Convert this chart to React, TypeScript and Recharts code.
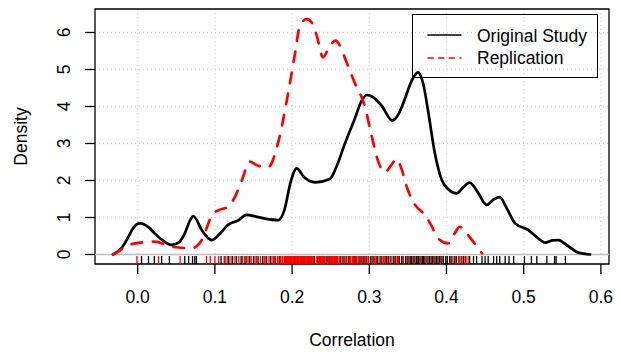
import React from 'react';
import {
  ComposedChart,
  Line,
  XAxis,
  YAxis,
  CartesianGrid,
  ReferenceLine,
  ReferenceArea,
  Scatter,
  Legend,
  Label,
} from 'recharts';

// Density curve: Original Study
const origX = [
  -0.032, -0.021, -0.012, -0.006, 0.003, 0.015, 0.022, 0.03, 0.044, 0.053, 0.061, 0.068,
  0.072, 0.083, 0.0915, 0.096, 0.109, 0.117, 0.13, 0.141, 0.152, 0.165, 0.182, 0.19,
  0.198, 0.206, 0.215, 0.23, 0.249, 0.258, 0.269, 0.281, 0.29, 0.297, 0.305, 0.316,
  0.33, 0.338, 0.346, 0.355, 0.363, 0.37, 0.376, 0.385, 0.394, 0.403, 0.413, 0.422,
  0.43, 0.44, 0.452, 0.462, 0.469, 0.478, 0.489, 0.506, 0.518, 0.528, 0.537, 0.545,
  0.556, 0.571, 0.586,
];
const origY = [
  0.0, 0.17, 0.48, 0.71, 0.84, 0.72, 0.57, 0.42, 0.26, 0.32, 0.57, 0.93,
  1.04, 0.66, 0.44, 0.39, 0.62, 0.8, 0.92, 1.07, 1.03, 0.97, 0.93, 1.2,
  1.95, 2.33, 2.1, 1.95, 2.04, 2.4, 3.03, 3.66, 4.15, 4.31, 4.25, 4.02,
  3.62, 3.8, 4.2, 4.7, 4.92, 4.6, 3.9, 2.73, 2.01, 1.75, 1.65, 1.82,
  1.94, 1.7, 1.34, 1.5, 1.55, 1.25, 0.84, 0.66, 0.45, 0.32, 0.38, 0.39,
  0.25, 0.05, 0.0,
];

// Density curve: Replication
const replX = [
  -0.032, -0.029, -0.016, -0.008, -0.003, 0.022, 0.044, 0.07, 0.083, 0.09, 0.096, 0.105,
  0.117, 0.127, 0.135, 0.145, 0.156, 0.169, 0.182, 0.195, 0.204, 0.21, 0.219, 0.226,
  0.232, 0.24, 0.248, 0.256, 0.263, 0.269, 0.281, 0.294, 0.303, 0.312, 0.32, 0.328,
  0.335, 0.342, 0.348, 0.359, 0.372, 0.38, 0.389, 0.402, 0.41, 0.417, 0.425, 0.433,
  0.446,
];
const replY = [
  0.0, 0.03, 0.21, 0.28, 0.3, 0.35, 0.21, 0.17, 0.39, 0.75, 1.07, 1.2,
  1.29, 1.6, 2.01, 2.51, 2.4, 2.36, 3.03, 4.38, 5.46, 6.18, 6.36, 6.25,
  5.91, 5.33, 5.6, 5.78, 5.6, 5.28, 4.65, 4.02, 3.21, 2.49, 2.22, 2.4,
  2.58, 2.3, 1.86, 1.35, 1.07, 0.8, 0.44, 0.3, 0.55, 0.75, 0.6, 0.39,
  0.03,
];

// Rug values
const origRug = [
  0.005, 0.014, 0.0215, 0.031, 0.041, 0.061, 0.066, 0.071, 0.074, 0.076, 0.108, 0.113,
  0.118, 0.123, 0.128, 0.134, 0.139, 0.145, 0.15, 0.156, 0.162, 0.167, 0.172, 0.178,
  0.184, 0.191, 0.198, 0.204, 0.208, 0.214, 0.222, 0.229, 0.236, 0.244, 0.248, 0.258,
  0.263, 0.266, 0.27, 0.273, 0.275, 0.279, 0.281, 0.283, 0.286, 0.288, 0.29, 0.292,
  0.294, 0.296, 0.299, 0.302, 0.304, 0.306, 0.309, 0.311, 0.314, 0.316, 0.319, 0.322,
  0.325, 0.328, 0.331, 0.334, 0.337, 0.339, 0.342, 0.344, 0.347, 0.349, 0.351, 0.353,
  0.355, 0.357, 0.359, 0.361, 0.363, 0.364, 0.366, 0.367, 0.369, 0.37, 0.372, 0.374,
  0.376, 0.378, 0.38, 0.382, 0.385, 0.387, 0.389, 0.391, 0.394, 0.396, 0.399, 0.401,
  0.404, 0.407, 0.41, 0.413, 0.416, 0.419, 0.422, 0.425, 0.43, 0.435, 0.439, 0.446,
  0.45, 0.454, 0.461, 0.465, 0.469, 0.476, 0.481, 0.487, 0.501, 0.51, 0.517, 0.53,
  0.54, 0.542, 0.554,
];
const replRug = [
  -0.001, 0.027, 0.055, 0.089, 0.094, 0.1, 0.105, 0.112, 0.116, 0.121, 0.126, 0.131,
  0.136, 0.141, 0.143, 0.147, 0.152, 0.154, 0.159, 0.164, 0.166, 0.17, 0.174, 0.176,
  0.178, 0.181, 0.183, 0.185, 0.187, 0.188, 0.19, 0.191, 0.192, 0.193, 0.194, 0.195,
  0.196, 0.197, 0.198, 0.199, 0.2, 0.201, 0.202, 0.203, 0.204, 0.205, 0.206, 0.207,
  0.208, 0.209, 0.21, 0.211, 0.212, 0.213, 0.214, 0.215, 0.216, 0.217, 0.218, 0.219,
  0.22, 0.221, 0.222, 0.223, 0.224, 0.225, 0.226, 0.227, 0.228, 0.232, 0.233, 0.234,
  0.235, 0.236, 0.237, 0.238, 0.239, 0.24, 0.241, 0.242, 0.246, 0.247, 0.248, 0.249,
  0.25, 0.251, 0.252, 0.253, 0.254, 0.255, 0.256, 0.257, 0.258, 0.259, 0.261, 0.262,
  0.265, 0.268, 0.271, 0.274, 0.276, 0.278, 0.28, 0.282, 0.284, 0.286, 0.288, 0.29,
  0.294, 0.297, 0.299, 0.304, 0.307, 0.309, 0.315, 0.318, 0.321, 0.324, 0.327, 0.333,
  0.336, 0.338, 0.344, 0.351, 0.358, 0.366, 0.374, 0.383, 0.392, 0.405, 0.412, 0.416,
  0.42, 0.424, 0.428,
];

const xTicks = [0, 0.1, 0.2, 0.3, 0.4, 0.5, 0.6];
const yTicks = [0, 1, 2, 3, 4, 5, 6];
const xDomain = [-0.0553, 0.6105];
const yDomain = [-0.257, 6.635];

const seriesNames = ['Original Study', 'Replication'];
const seriesColors = ['#000000', '#ff0000'];

const FONT = '"Liberation Sans", Arial, Helvetica, sans-serif';
const FS = 17.5;

const origData = origX.map((x, i) => ({ x, y: origY[i] }));
const replData = replX.map((x, i) => ({ x, y: replY[i] }));
const origRugData = origRug.map((x) => ({ x, y: yDomain[0] }));
const replRugData = replRug.map((x) => ({ x, y: yDomain[0] }));

const makeRugShape = (color: string) => (props: any) => {
  const { cx, cy } = props;
  if (cx == null || cy == null) return <g />;
  return <line x1={cx} x2={cx} y1={cy} y2={cy - 8} stroke={color} strokeWidth={1.3} />;
};

const YTick = (props: any) => {
  const { x, y, payload } = props;
  return (
    <text
      x={x}
      y={y}
      transform={`rotate(-90 ${x} ${y})`}
      textAnchor="middle"
      fontSize={FS}
      fontFamily={FONT}
      fill="#000"
    >
      {payload.value}
    </text>
  );
};

const LegendBox = () => (
  <div
    style={{
      width: 186,
      height: 64,
      boxSizing: 'border-box',
      border: '1.3px solid #000',
      background: 'transparent',
    }}
  >
    <svg width={184} height={62} style={{ display: 'block' }}>
      <line x1={15} x2={48} y1={20} y2={20} stroke={seriesColors[0]} strokeWidth={1.4} strokeLinecap="round" />
      <line
        x1={15}
        x2={48}
        y1={43}
        y2={43}
        stroke={seriesColors[1]}
        strokeWidth={1.4}
        strokeDasharray="5.3 5.3"
        strokeLinecap="round"
      />
      <text x={64} y={26.5} fontSize={FS} fontFamily={FONT} fill="#000">
        {seriesNames[0]}
      </text>
      <text x={64} y={48.5} fontSize={FS} fontFamily={FONT} fill="#000">
        {seriesNames[1]}
      </text>
    </svg>
  </div>
);

export default function App() {
  return (
    <div style={{ position: 'absolute', left: 0, top: 0, width: 621, height: 356, background: '#fff' }}>
      <ComposedChart
        width={621}
        height={356}
        margin={{ top: 9, right: 12, left: 0, bottom: 0 }}
        style={{ fontFamily: FONT }}
      >
        <CartesianGrid
          stroke="#d3d3d3"
          strokeDasharray="1 3"
          strokeWidth={1.3}
          horizontalValues={yTicks}
          verticalValues={xTicks}
        />
        <XAxis
          dataKey="x"
          type="number"
          domain={xDomain}
          ticks={xTicks}
          allowDataOverflow
          axisLine={false}
          tickLine={{ stroke: '#000', strokeWidth: 1.3 }}
          tickSize={10}
          tickMargin={17}
          height={92}
          tick={{ fill: '#000', fontSize: FS, fontFamily: FONT }}
          tickFormatter={(v: number) => v.toFixed(1)}
          interval={0}
        >
          <Label
            value="Correlation"
            position="insideBottom"
            offset={10}
            fill="#000"
            fontSize={FS}
            fontFamily={FONT}
          />
        </XAxis>
        <YAxis
          dataKey="y"
          type="number"
          domain={yDomain}
          ticks={yTicks}
          allowDataOverflow
          axisLine={false}
          tickLine={{ stroke: '#000', strokeWidth: 1.3 }}
          tickSize={10}
          tickMargin={15}
          width={95}
          tick={<YTick />}
          interval={0}
        >
          <Label
            content={(p: any) => {
              const vb = p.viewBox || { y: 9, height: 255 };
              const cy = vb.y + vb.height / 2;
              const cx = 27;
              return (
                <text
                  x={cx}
                  y={cy}
                  transform={`rotate(-90 ${cx} ${cy})`}
                  textAnchor="middle"
                  fontSize={FS}
                  fontFamily={FONT}
                  fill="#000"
                >
                  Density
                </text>
              );
            }}
          />
        </YAxis>
        <ReferenceLine y={0} stroke="#bebebe" strokeWidth={1.6} />
        <Scatter
          data={origRugData}
          isAnimationActive={false}
          shape={makeRugShape(seriesColors[0])}
          legendType="none"
        />
        <Scatter
          data={replRugData}
          isAnimationActive={false}
          shape={makeRugShape(seriesColors[1])}
          legendType="none"
        />
        <Line
          data={origData}
          dataKey="y"
          type="monotone"
          stroke={seriesColors[0]}
          strokeWidth={2.7}
          dot={false}
          activeDot={false}
          isAnimationActive={false}
          strokeLinecap="round"
          strokeLinejoin="round"
        />
        <Line
          data={replData}
          dataKey="y"
          type="monotone"
          stroke={seriesColors[1]}
          strokeWidth={2.7}
          strokeDasharray="10.7 10.7"
          strokeLinecap="round"
          strokeLinejoin="round"
          dot={false}
          activeDot={false}
          isAnimationActive={false}
        />
        <ReferenceArea
          x1={xDomain[0]}
          x2={xDomain[1]}
          y1={yDomain[0]}
          y2={yDomain[1]}
          fill="none"
          fillOpacity={0}
          stroke="#000"
          strokeWidth={1.3}
          ifOverflow="visible"
        />
        <Legend
          layout="vertical"
          align="center"
          verticalAlign="middle"
          wrapperStyle={{ left: 412, top: 14, width: 186, height: 64 }}
          content={() => <LegendBox />}
        />
      </ComposedChart>
    </div>
  );
}
